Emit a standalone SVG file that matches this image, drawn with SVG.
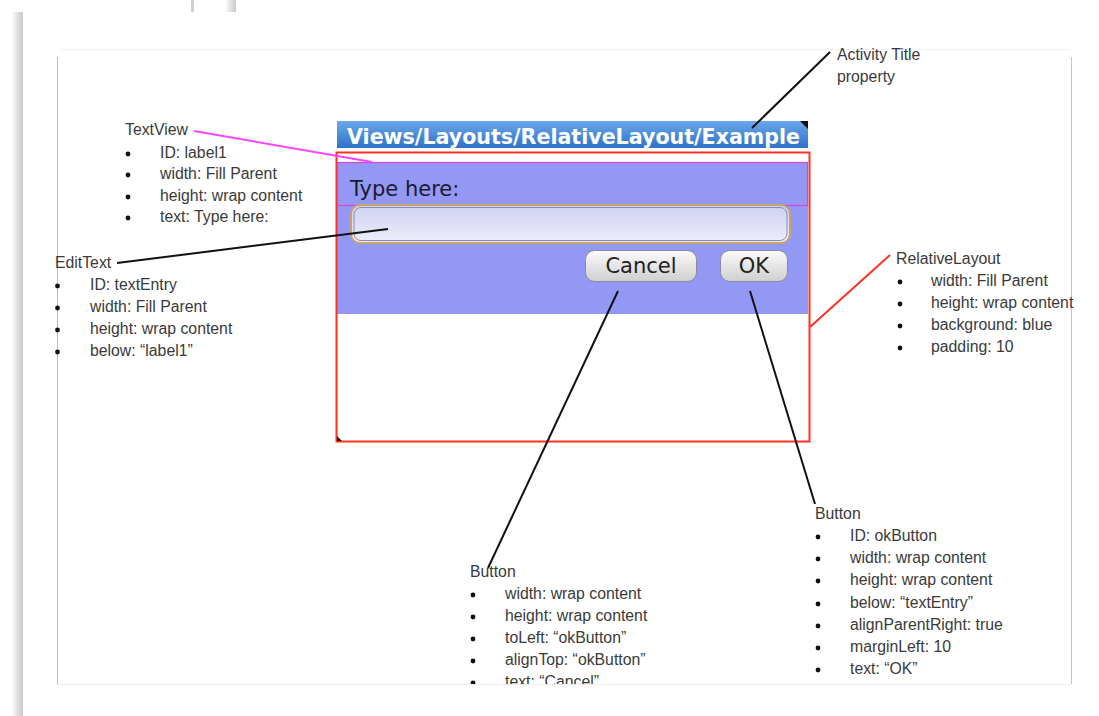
<svg xmlns="http://www.w3.org/2000/svg" width="1099" height="716" viewBox="0 0 1099 716">
<style>
.lbl{font-family:"Liberation Sans",Arial,sans-serif;font-size:15.8px;fill:#3a3a3a}
.dot{fill:#111}
.conn{fill:none;stroke-width:2}
</style>
<defs>
<linearGradient id="tb" x1="0" y1="0" x2="0" y2="1"><stop offset="0" stop-color="#6aa8ea"/><stop offset="1" stop-color="#2f72c8"/></linearGradient>
<linearGradient id="et" x1="0" y1="0" x2="0" y2="1"><stop offset="0" stop-color="#cfd0f2"/><stop offset="1" stop-color="#eeeefa"/></linearGradient>
<linearGradient id="bt" x1="0" y1="0" x2="0" y2="1"><stop offset="0" stop-color="#fbfbfb"/><stop offset="1" stop-color="#cfcfcf"/></linearGradient>
<linearGradient id="sh" x1="0" y1="0" x2="1" y2="0"><stop offset="0" stop-color="#fff"/><stop offset="1" stop-color="#c8c8c8"/></linearGradient>
<clipPath id="pg"><rect x="0" y="0" width="1099" height="684"/></clipPath>
</defs>
<rect width="1099" height="716" fill="#fff"/>
<g id="frame">
<rect x="11" y="12" width="12" height="704" fill="url(#sh)"/>
<rect x="191" y="0" width="3" height="12" fill="#d0d0d0"/>
<rect x="225" y="0" width="11" height="12" fill="url(#sh)"/>
<line x1="60" y1="49.5" x2="1070" y2="49.5" stroke="#f0f0f0"/>
<line x1="57.5" y1="57" x2="57.5" y2="684" stroke="#bdbdbd"/>
<line x1="1071.5" y1="57" x2="1071.5" y2="684" stroke="#c4c4c4"/>
<line x1="57" y1="684.5" x2="1071" y2="684.5" stroke="#eeeeee"/>
</g>
<g id="screen">
<rect x="337" y="121" width="471" height="27" fill="url(#tb)"/>
<path d="M800 121 H808 V129 Z" fill="#111"/>
<text x="347" y="144" font-family="DejaVu Sans,sans-serif" font-weight="bold" font-size="21" fill="#fff" textLength="453" lengthAdjust="spacingAndGlyphs">Views/Layouts/RelativeLayout/Example</text>
</g>
<g id="relativeLayout">
<rect x="337" y="162" width="471" height="152" fill="#9498f5"/>
<rect x="336.5" y="152.5" width="473" height="289" fill="none" stroke="#ff3020" stroke-width="2"/>
<path d="M337 436 L342 441 H337 Z" fill="#111"/>
</g>
<g id="textView">
<rect x="337.5" y="162.5" width="470" height="43" fill="none" stroke="#e040e0" stroke-width="1.2"/>
<text x="350" y="196" font-family="DejaVu Sans,sans-serif" font-size="21" fill="#1a1a30">Type here:</text>
</g>
<g id="editText">
<rect x="351" y="205" width="439" height="38" rx="9" fill="url(#et)" stroke="#c8a46a" stroke-width="2"/>
<rect x="354" y="207.5" width="433" height="33" rx="7" fill="none" stroke="#8a8aa8" stroke-width="1"/>
</g>
<g id="cancelButton">
<rect x="585.5" y="250.5" width="111" height="31" rx="9" fill="url(#bt)" stroke="#8a8a9a"/>
<text x="641" y="273" text-anchor="middle" font-family="DejaVu Sans,sans-serif" font-size="21" fill="#222">Cancel</text>
</g>
<g id="okButton">
<rect x="720.5" y="250.5" width="67" height="31" rx="9" fill="url(#bt)" stroke="#8a8a9a"/>
<text x="754" y="273" text-anchor="middle" font-family="DejaVu Sans,sans-serif" font-size="21" fill="#222">OK</text>
</g>
<g id="connectors">
<line class="conn" x1="830" y1="52" x2="752" y2="128" stroke="#111"/>
<line class="conn" x1="194" y1="131" x2="372" y2="162" stroke="#ff44ff"/>
<line class="conn" x1="117" y1="263" x2="388" y2="229" stroke="#111"/>
<line class="conn" x1="890" y1="255" x2="810" y2="327" stroke="#ff3020"/>
<line class="conn" x1="618" y1="291" x2="488" y2="568" stroke="#111"/>
<line class="conn" x1="750" y1="291" x2="815" y2="504" stroke="#111"/>
</g>
<g id="note-activity-title">
<text class="lbl" x="837" y="60">Activity Title</text>
<text class="lbl" x="837" y="82">property</text>
</g>
<g id="note-textview">
<text class="lbl" x="125" y="135">TextView</text>
<circle class="dot" cx="128" cy="154" r="2.4"/><text class="lbl" x="160" y="158">ID: label1</text>
<circle class="dot" cx="128" cy="175" r="2.4"/><text class="lbl" x="160" y="179">width: Fill Parent</text>
<circle class="dot" cx="128" cy="197" r="2.4"/><text class="lbl" x="160" y="201">height: wrap content</text>
<circle class="dot" cx="128" cy="218" r="2.4"/><text class="lbl" x="160" y="222">text: Type here:</text>
</g>
<g id="note-edittext">
<text class="lbl" x="55" y="268">EditText</text>
<circle class="dot" cx="57.5" cy="286" r="2.4"/><text class="lbl" x="90" y="290">ID: textEntry</text>
<circle class="dot" cx="57.5" cy="308" r="2.4"/><text class="lbl" x="90" y="312">width: Fill Parent</text>
<circle class="dot" cx="57.5" cy="330" r="2.4"/><text class="lbl" x="90" y="334">height: wrap content</text>
<circle class="dot" cx="57.5" cy="352" r="2.4"/><text class="lbl" x="90" y="356">below: “label1”</text>
</g>
<g id="note-relativelayout">
<text class="lbl" x="896" y="264">RelativeLayout</text>
<circle class="dot" cx="900" cy="282" r="2.4"/><text class="lbl" x="931" y="286">width: Fill Parent</text>
<circle class="dot" cx="900" cy="304" r="2.4"/><text class="lbl" x="931" y="308">height: wrap content</text>
<circle class="dot" cx="900" cy="326" r="2.4"/><text class="lbl" x="931" y="330">background: blue</text>
<circle class="dot" cx="900" cy="348" r="2.4"/><text class="lbl" x="931" y="352">padding: 10</text>
</g>
<g id="note-cancel" clip-path="url(#pg)">
<text class="lbl" x="470" y="577">Button</text>
<circle class="dot" cx="473" cy="595" r="2.4"/><text class="lbl" x="505" y="599">width: wrap content</text>
<circle class="dot" cx="473" cy="617" r="2.4"/><text class="lbl" x="505" y="621">height: wrap content</text>
<circle class="dot" cx="473" cy="639" r="2.4"/><text class="lbl" x="505" y="643">toLeft: “okButton”</text>
<circle class="dot" cx="473" cy="661" r="2.4"/><text class="lbl" x="505" y="665">alignTop: “okButton”</text>
<circle class="dot" cx="473" cy="683" r="2.4"/><text class="lbl" x="505" y="687">text: “Cancel”</text>
</g>
<g id="note-ok">
<text class="lbl" x="815" y="519">Button</text>
<circle class="dot" cx="818" cy="537" r="2.4"/><text class="lbl" x="850" y="541">ID: okButton</text>
<circle class="dot" cx="818" cy="559" r="2.4"/><text class="lbl" x="850" y="563">width: wrap content</text>
<circle class="dot" cx="818" cy="581" r="2.4"/><text class="lbl" x="850" y="585">height: wrap content</text>
<circle class="dot" cx="818" cy="604" r="2.4"/><text class="lbl" x="850" y="608">below: “textEntry”</text>
<circle class="dot" cx="818" cy="626" r="2.4"/><text class="lbl" x="850" y="630">alignParentRight: true</text>
<circle class="dot" cx="818" cy="648" r="2.4"/><text class="lbl" x="850" y="652">marginLeft: 10</text>
<circle class="dot" cx="818" cy="670" r="2.4"/><text class="lbl" x="850" y="674">text: “OK”</text>
</g>
</svg>
